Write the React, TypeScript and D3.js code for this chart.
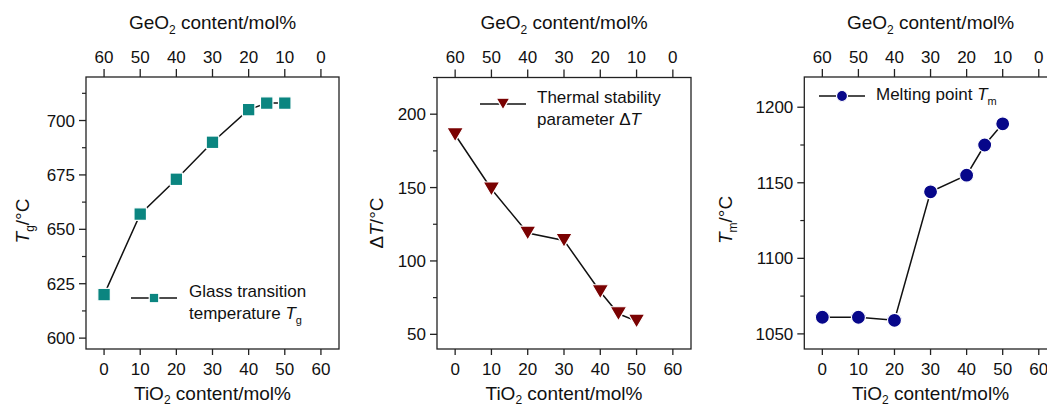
import React from "react";
import * as d3 from "d3";

// ---- data ----
const tio2Tg = [0, 10, 20, 30, 40, 45, 50];
const tgValues = [620, 657, 673, 690, 705, 708, 708];

const tio2DT = [0, 10, 20, 30, 40, 45, 50];
const dtValues = [186, 149, 119, 114, 79, 64, 59];

const tio2Tm = [0, 10, 20, 30, 40, 45, 50];
const tmValues = [1061, 1061, 1059, 1144, 1155, 1175, 1189];

const xTicks = [0, 10, 20, 30, 40, 50, 60];
const geTickLabels = ["60", "50", "40", "30", "20", "10", "0"];
const tgTicks = [600, 625, 650, 675, 700];
const dtTicks = [50, 100, 150, 200];
const tmTicks = [1050, 1100, 1150, 1200];

const FONT = "'Liberation Sans', Arial, Helvetica, sans-serif";
const AX = "#222";

type Panel = {
  xs: number[];
  ys: number[];
  left: number;
  right: number;
  top: number;
  bottom: number;
  yDomain: [number, number];
  yTicks: number[];
  yMinorStep: number;
  marker: "square" | "tri" | "circle";
  color: string;
  yTitle: React.ReactNode;
  yTitleX: number;
  yTitleY: number;
  legend: { lx1: number; lx2: number; ly: number; tx: number; lines: React.ReactNode[]; baselines: number[] };
};

const panels: Panel[] = [
  {
    xs: tio2Tg, ys: tgValues, left: 86, right: 339, top: 77, bottom: 349,
    yDomain: [595, 720], yTicks: tgTicks, yMinorStep: 12.5, marker: "square", color: "#0b8580",
    yTitle: (<>
      <tspan fontStyle="italic">T</tspan>
      <tspan fontSize={12} dy={5}>g</tspan>
      <tspan dy={-5}>/°C</tspan>
    </>),
    yTitleX: 29, yTitleY: 221,
    legend: {
      lx1: 131, lx2: 177, ly: 298, tx: 189,
      lines: [
        <>Glass transition</>,
        <>temperature <tspan fontStyle="italic">T</tspan><tspan fontSize={11} dy={5}>g</tspan></>,
      ],
      baselines: [297, 319],
    },
  },
  {
    xs: tio2DT, ys: dtValues, left: 437, right: 691, top: 77.5, bottom: 349,
    yDomain: [40, 225], yTicks: dtTicks, yMinorStep: 25, marker: "tri", color: "#7a0202",
    yTitle: (<>
      <tspan>Δ</tspan>
      <tspan fontStyle="italic">T</tspan>
      <tspan>/°C</tspan>
    </>),
    yTitleX: 383, yTitleY: 223,
    legend: {
      lx1: 480, lx2: 526, ly: 104, tx: 537,
      lines: [
        <>Thermal stability</>,
        <>parameter Δ<tspan fontStyle="italic">T</tspan></>,
      ],
      baselines: [103, 125],
    },
  },
  {
    xs: tio2Tm, ys: tmValues, left: 804.3, right: 1056.8, top: 77, bottom: 349,
    yDomain: [1040, 1220], yTicks: tmTicks, yMinorStep: 25, marker: "circle", color: "#07078a",
    yTitle: (<>
      <tspan fontStyle="italic">T</tspan>
      <tspan fontSize={12} dy={5}>m</tspan>
      <tspan dy={-5}>/°C</tspan>
    </>),
    yTitleX: 732, yTitleY: 220,
    legend: {
      lx1: 819, lx2: 865, ly: 96, tx: 876,
      lines: [<>Melting point <tspan fontStyle="italic">T</tspan><tspan fontSize={11} dy={5}>m</tspan></>],
      baselines: [100],
    },
  },
];

function Marker({ kind, x, y, color, s }: { kind: string; x: number; y: number; color: string; s: number }) {
  if (kind === "square") {
    return <rect x={x - s / 2} y={y - s / 2} width={s} height={s} fill={color} stroke="#fff" strokeWidth={1.2} />;
  }
  if (kind === "circle") {
    return <circle cx={x} cy={y} r={s / 2} fill={color} stroke="#fff" strokeWidth={1.2} />;
  }
  const w = s;
  const h = s * 0.85;
  const p = d3.path();
  p.moveTo(x - w / 2, y - h / 2);
  p.lineTo(x + w / 2, y - h / 2);
  p.lineTo(x, y + h / 2);
  p.closePath();
  return <path d={p.toString()} fill={color} stroke="#fff" strokeWidth={1.2} />;
}

function PanelView({ p }: { p: Panel }) {
  const x = d3.scaleLinear().domain([-5, 65]).range([p.left, p.right]);
  const y = d3.scaleLinear().domain(p.yDomain).range([p.bottom, p.top]);
  const pts = p.xs.map((v, i) => [x(v), y(p.ys[i])] as [number, number]);
  const line = d3.line()(pts) || "";
  const minor = d3.range(
    Math.ceil(p.yDomain[0] / p.yMinorStep) * p.yMinorStep,
    p.yDomain[1] + 0.001,
    p.yMinorStep
  ).filter((v) => !p.yTicks.includes(v));
  const midX = (p.left + p.right) / 2;
  const mSize = p.marker === "square" ? 12.5 : p.marker === "tri" ? 16.5 : 14;
  const lSize = p.marker === "square" ? 9.5 : p.marker === "tri" ? 13.5 : 11;
  return (
    <g>
      {/* frame */}
      <rect x={p.left} y={p.top} width={p.right - p.left} height={p.bottom - p.top} fill="none" stroke={AX} strokeWidth={1.3} />
      {/* bottom ticks */}
      {xTicks.map((t) => (
        <g key={"b" + t}>
          <line x1={x(t)} x2={x(t)} y1={p.bottom} y2={p.bottom + 6} stroke={AX} strokeWidth={1.3} />
          <text x={x(t)} y={375} textAnchor="middle" fontSize={17} fontFamily={FONT} fill="#111">{t}</text>
        </g>
      ))}
      {/* top ticks */}
      {xTicks.map((t, i) => (
        <g key={"t" + t}>
          <line x1={x(t)} x2={x(t)} y1={p.top} y2={p.top - 8} stroke={AX} strokeWidth={1.3} />
          <text x={x(t)} y={63} textAnchor="middle" fontSize={17} fontFamily={FONT} fill="#111">{geTickLabels[i]}</text>
        </g>
      ))}
      {/* left ticks */}
      {p.yTicks.map((t) => (
        <g key={"l" + t}>
          <line x1={p.left} x2={p.left - 7} y1={y(t)} y2={y(t)} stroke={AX} strokeWidth={1.3} />
          <text x={p.left - 11} y={y(t)} dy="0.36em" textAnchor="end" fontSize={17} fontFamily={FONT} fill="#111">{t}</text>
        </g>
      ))}
      {minor.map((t) => (
        <line key={"m" + t} x1={p.left} x2={p.left - 4} y1={y(t)} y2={y(t)} stroke={AX} strokeWidth={1.2} />
      ))}
      {/* axis titles */}
      <text x={midX} y={29} textAnchor="middle" fontSize={19} fontFamily={FONT} fill="#111">
        GeO<tspan fontSize={12} dy={5}>2</tspan><tspan dy={-5}> content/mol%</tspan>
      </text>
      <text x={midX} y={400} textAnchor="middle" fontSize={19} fontFamily={FONT} fill="#111">
        TiO<tspan fontSize={12} dy={4}>2</tspan><tspan dy={-4}> content/mol%</tspan>
      </text>
      <text transform={`translate(${p.yTitleX},${p.yTitleY}) rotate(-90)`} textAnchor="middle" fontSize={19} fontFamily={FONT} fill="#111">
        {p.yTitle}
      </text>
      {/* data line */}
      <path d={line} fill="none" stroke="#111" strokeWidth={1.5} />
      {pts.map((pt, i) => (
        <Marker key={i} kind={p.marker} x={pt[0]} y={pt[1]} color={p.color} s={mSize} />
      ))}
      {/* legend */}
      <line x1={p.legend.lx1} x2={p.legend.lx2} y1={p.legend.ly} y2={p.legend.ly} stroke="#111" strokeWidth={1.5} />
      <Marker kind={p.marker} x={(p.legend.lx1 + p.legend.lx2) / 2} y={p.legend.ly} color={p.color} s={lSize} />
      {p.legend.lines.map((ln, i) => (
        <text key={i} x={p.legend.tx} y={p.legend.baselines[i]} fontSize={17} fontFamily={FONT} fill="#111">{ln}</text>
      ))}
    </g>
  );
}

export default function App() {
  return (
    <svg width={1047} height={409} style={{ position: "absolute", left: 0, top: 0, background: "#fff" }}>
      <rect x={0} y={0} width={1047} height={409} fill="#fff" />
      {panels.map((p, i) => (
        <PanelView key={i} p={p} />
      ))}
    </svg>
  );
}
